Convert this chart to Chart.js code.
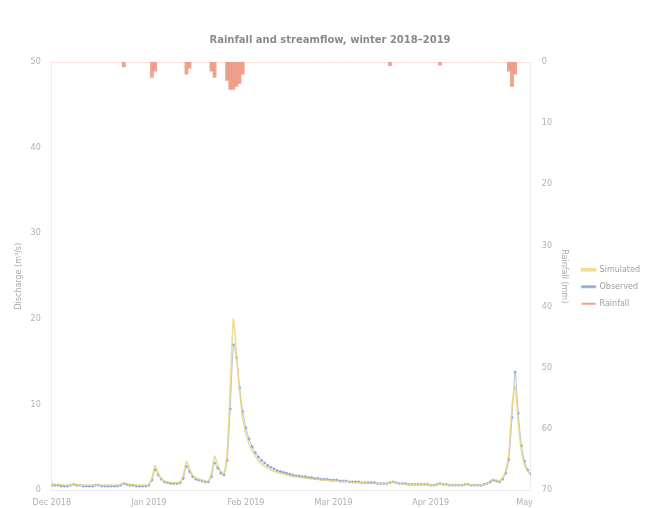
<!DOCTYPE html>
<html>
<head>
<meta charset="utf-8">
<script src="https://cdn.jsdelivr.net/npm/chart.js@4"></script>
<style>
  html, body { margin: 0; padding: 0; background: #fff; }
  #wrap { width: 654px; height: 508px; }
</style>
</head>
<body>
<div id="wrap"><canvas id="myChart"></canvas></div>
<script>
// month ticks on the day axis
const monthStarts = [0, 31, 62, 90, 121, 151];
const monthLabels = ['Dec 2018', 'Jan 2019', 'Feb 2019', 'Mar 2019', 'Apr 2019', 'May'];

// daily discharge, m3/s
const observed = [
  0.6,0.6,0.6,0.5,0.5,0.5,0.6,0.7,0.6,0.6, 0.5,0.5,0.5,0.5,0.6,0.6,0.5,0.5,0.5,0.5,
  0.5,0.5,0.6,0.8,0.7,0.6,0.6,0.5,0.5,0.5,
  0.5,0.6,1.2,2.4,1.8,1.3,1.0,0.9,0.8,0.8, 0.8,0.9,1.4,2.8,2.2,1.6,1.3,1.2,1.1,1.0,
  1.0,1.6,3.2,2.6,2.0,1.8,3.5,9.5,17.0,15.5,
  12.0,9.2,7.3,6.0,5.1,4.4,3.9,3.5,3.2,2.9, 2.7,2.5,2.3,2.2,2.1,2.0,1.9,1.8,1.7,1.7,
  1.6,1.6,1.5,1.5,1.4,1.4,1.3,1.3,1.3,1.2,
  1.2,1.2,1.1,1.1,1.1,1.0,1.0,1.0,1.0,0.9, 0.9,0.9,0.9,0.9,0.8,0.8,0.8,0.8,0.9,1.0,
  0.9,0.8,0.8,0.8,0.7,0.7,0.7,0.7,0.7,0.7,
  0.7,0.6,0.6,0.7,0.8,0.7,0.7,0.6,0.6,0.6, 0.6,0.6,0.7,0.7,0.6,0.6,0.6,0.6,0.7,0.8,
  1.0,1.2,1.1,1.0,1.3,2.0,3.6,8.5,13.8,9.0, 5.2,3.4,2.4,1.9
];
const simulated = [
  0.8,0.7,0.7,0.7,0.6,0.6,0.6,0.7,0.7,0.6, 0.6,0.6,0.6,0.6,0.6,0.6,0.6,0.6,0.6,0.6,
  0.6,0.6,0.7,0.9,0.8,0.7,0.7,0.6,0.6,0.6,
  0.6,0.7,1.5,2.9,2.0,1.4,1.1,1.0,0.9,0.9, 0.9,1.0,1.8,3.4,2.5,1.8,1.5,1.3,1.2,1.1,
  1.1,2.0,4.0,3.0,2.3,2.0,4.5,12.0,20.0,16.0,
  11.5,8.4,6.6,5.4,4.6,4.0,3.5,3.1,2.8,2.6, 2.4,2.2,2.1,2.0,1.9,1.8,1.7,1.6,1.6,1.5,
  1.5,1.4,1.4,1.3,1.3,1.3,1.2,1.2,1.2,1.1,
  1.1,1.1,1.0,1.0,1.0,1.0,0.9,0.9,0.9,0.9, 0.9,0.8,0.8,0.8,0.8,0.8,0.8,0.8,0.9,1.0,
  0.9,0.8,0.8,0.7,0.7,0.7,0.7,0.7,0.7,0.7,
  0.7,0.6,0.6,0.7,0.8,0.7,0.7,0.6,0.6,0.6, 0.6,0.6,0.7,0.7,0.6,0.6,0.6,0.6,0.7,0.8,
  1.1,1.3,1.2,1.1,1.5,2.4,4.4,9.8,12.2,7.8, 4.6,3.0,2.2,1.8
];
// daily rainfall, mm
const rainfall = [
  0,0,0,0,0,0,0,0,0,0, 0,0,0,0,0,0,0,0,0,0,
  0,0,0,0.8,0,0,0,0,0,0, 0,0,2.5,1.5,0,0,0,0,0,0,
  0,0,0,2.0,1.0,0,0,0,0,0, 0,1.5,2.5,0,0,0,3.0,4.5,4.5,4.0,
  3.5,2.0,0,0,0,0,0,0,0,0, 0,0,0,0,0,0,0,0,0,0,
  0,0,0,0,0,0,0,0,0,0, 0,0,0,0,0,0,0,0,0,0,
  0,0,0,0,0,0,0,0,0.6,0, 0,0,0,0,0,0,0,0,0,0,
  0,0,0,0,0.5,0,0,0,0,0, 0,0,0,0,0,0,0,0,0,0,
  0,0,0,0,0,0,1.5,4.0,2.0,0, 0,0,0,0
];

const toPoints = arr => arr.map((v, i) => ({ x: i, y: v }));

const ctx = document.getElementById('myChart').getContext('2d');
const myGraph = new Chart(ctx, {
  data: {
    datasets: [
      {
        type: 'line',
        label: 'Simulated',
        data: toPoints(simulated),
        borderColor: 'rgba(236, 214, 120, 0.85)',
        borderWidth: 1.5,
        pointRadius: 0,
        tension: 0.2,
        yAxisID: 'y'
      },
      {
        type: 'line',
        label: 'Observed',
        data: toPoints(observed),
        borderColor: 'rgba(150, 175, 220, 0.75)',
        backgroundColor: 'rgba(110, 135, 195, 0.75)',
        borderWidth: 1,
        pointRadius: 1.1,
        pointStyle: 'circle',
        tension: 0.2,
        yAxisID: 'y'
      },
      {
        type: 'bar',
        label: 'Rainfall',
        data: toPoints(rainfall),
        backgroundColor: 'rgba(232, 140, 115, 0.8)',
        barPercentage: 1,
        categoryPercentage: 1,
        yAxisID: 'y1'
      }
    ]
  },
  options: {
    responsive: true,
    maintainAspectRatio: false,
    animation: false,
    layout: { padding: { left: 10, right: 4, bottom: 0 } },
    plugins: {
      title: {
        display: true,
        text: 'Rainfall and streamflow, winter 2018–2019',
        color: '#8a8a8a',
        font: { family: 'DejaVu Sans', size: 10 },
        padding: { top: 34, bottom: 16 }
      },
      legend: {
        position: 'right',
        title: {
          display: true,
          text: ' ',
          font: { size: 8 },
          padding: { top: 0, bottom: 56 }
        },
        labels: {
          color: '#a0a0a0',
          font: { family: 'DejaVu Sans', size: 8 },
          boxWidth: 14,
          boxHeight: 2,
          padding: 9
        }
      },
      tooltip: { enabled: false }
    },
    scales: {
      x: {
        type: 'linear',
        min: 0,
        max: 153,
        offset: false,
        grid: { display: false },
        border: { color: '#eeeeee' },
        afterBuildTicks: axis => {
          axis.ticks = monthStarts.map(v => ({ value: v }));
        },
        ticks: {
          color: '#b0b0b0',
          font: { family: 'DejaVu Sans', size: 8 },
          maxRotation: 0,
          padding: 0,
          callback: value => monthLabels[monthStarts.indexOf(value)]
        }
      },
      y: {
        position: 'left',
        min: 0,
        max: 50,
        grid: { display: false },
        border: { color: '#eeeeee' },
        title: {
          display: true,
          text: 'Discharge (m³/s)',
          color: '#a8a8a8',
          font: { family: 'DejaVu Sans', size: 8 }
        },
        ticks: {
          stepSize: 10,
          color: '#b0b0b0',
          font: { family: 'DejaVu Sans', size: 8 }
        }
      },
      y1: {
        position: 'right',
        reverse: true,
        min: 0,
        max: 70,
        grid: { display: false },
        border: { color: '#eeeeee' },
        title: {
          display: true,
          text: 'Rainfall (mm)',
          color: '#a8a8a8',
          font: { family: 'DejaVu Sans', size: 8 }
        },
        ticks: {
          stepSize: 10,
          color: '#b0b0b0',
          font: { family: 'DejaVu Sans', size: 8 }
        }
      }
    }
  }
});
</script>
</body>
</html>
